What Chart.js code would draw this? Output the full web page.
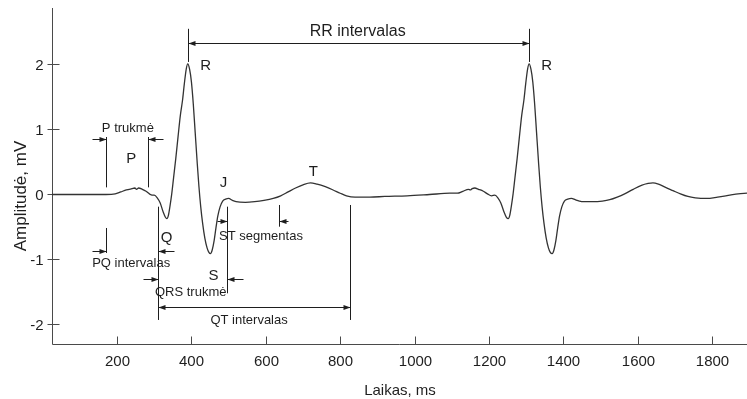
<!DOCTYPE html>
<html>
<head>
<meta charset="utf-8">
<script src="https://cdn.jsdelivr.net/npm/chart.js@4/dist/chart.umd.min.js"></script>
<style>
  html, body { margin: 0; padding: 0; background: #fff; }
  canvas { display: block; }
</style>
</head>
<body>
<canvas id="ecg" width="747" height="399"></canvas>
<script>
// ECG trace: time (ms) and amplitude (mV), two heartbeats
const timeMs = [
  25, 80, 130, 170, 195, 210, 225, 240, 248, 252, 258, 268, 278, 287, 294, 300,
  308, 316, 324, 330, 334, 338, 342, 347, 352, 358, 364, 370, 376, 381, 386, 390,
  395, 400, 405, 410, 415, 420, 425, 430, 436, 442, 447, 451, 456, 461, 466, 471,
  477, 484, 492, 500, 510, 520, 545, 570, 595, 620, 640, 660, 680, 700, 720, 738,
  760, 781, 800, 817, 840, 880, 920, 980, 1040, 1095,
  1115, 1130, 1145, 1150, 1155, 1162, 1172, 1185, 1196, 1207, 1216, 1224, 1232, 1240,
  1247, 1252, 1256, 1260, 1265, 1270, 1276, 1282, 1288, 1294, 1299, 1304, 1308, 1313,
  1318, 1323, 1328, 1333, 1338, 1343, 1348, 1354, 1360, 1365, 1370, 1375, 1380, 1385,
  1390, 1396, 1403, 1412, 1422, 1432, 1443, 1453, 1480, 1505, 1525, 1545, 1565, 1588,
  1610, 1628, 1641, 1656, 1675, 1695, 1715, 1735, 1755, 1785, 1815, 1848, 1870, 1894
];
const amplitudeMv = [
  -0.01, -0.01, -0.01, -0.01, 0.0, 0.03, 0.06, 0.08, 0.09, 0.07, 0.09, 0.07, 0.04, 0.0, -0.02, -0.02,
  -0.06, -0.14, -0.28, -0.36, -0.38, -0.33, -0.20, 0.0, 0.25, 0.55, 0.88, 1.20, 1.44, 1.70, 1.92, 2.0,
  1.92, 1.72, 1.38, 0.95, 0.52, 0.12, -0.20, -0.45, -0.68, -0.83, -0.90, -0.92, -0.86, -0.72, -0.52, -0.34,
  -0.20, -0.11, -0.08, -0.07, -0.10, -0.12, -0.13, -0.12, -0.10, -0.07, -0.03, 0.03, 0.09, 0.14, 0.17, 0.15,
  0.11, 0.06, 0.01, -0.03, -0.05, -0.05, -0.04, -0.03, -0.01, 0.01,
  0.01, 0.04, 0.07, 0.06, 0.08, 0.09, 0.07, 0.04, 0.0, -0.03, -0.02, -0.06, -0.14, -0.27,
  -0.36, -0.38, -0.33, -0.20, 0.0, 0.25, 0.55, 0.88, 1.20, 1.44, 1.70, 1.92, 2.0, 1.92,
  1.72, 1.38, 0.95, 0.52, 0.12, -0.20, -0.45, -0.68, -0.83, -0.90, -0.92, -0.86, -0.72, -0.52,
  -0.34, -0.20, -0.11, -0.08, -0.07, -0.09, -0.11, -0.12, -0.12, -0.11, -0.09, -0.05, 0.0, 0.07,
  0.13, 0.16, 0.17, 0.15, 0.10, 0.05, 0.0, -0.04, -0.06, -0.07, -0.05, -0.02, 0.0, 0.01
];

// Axis ticks
const xTicks = [200, 400, 600, 800, 1000, 1200, 1400, 1600, 1800];
const yTicks = [-2, -1, 0, 1, 2];

const xTitle = 'Laikas, ms';
const yTitle = 'Amplitudė, mV';

// Wave letters and interval captions (data coordinates: x in ms, y = text baseline in mV)
const captions = [
  { text: 'R', x: 438, y: 1.91, size: 15 },
  { text: 'R', x: 1355, y: 1.91, size: 15 },
  { text: 'P', x: 238, y: 0.475, size: 15 },
  { text: 'J', x: 486, y: 0.106, size: 15 },
  { text: 'T', x: 728, y: 0.275, size: 15 },
  { text: 'Q', x: 333, y: -0.74, size: 15 },
  { text: 'S', x: 459, y: -1.325, size: 15 },
  { text: 'RR intervalas', x: 847, y: 2.43, size: 16 },
  { text: 'P trukmė', x: 229, y: 0.95, size: 13 },
  { text: 'PQ intervalas', x: 238, y: -1.118, size: 13 },
  { text: 'QRS trukmė', x: 398, y: -1.579, size: 13 },
  { text: 'ST segmentas', x: 587, y: -0.71, size: 13 },
  { text: 'QT intervalas', x: 555, y: -2.0, size: 13 }
];

// Marker lines: vertical guides [x, yFrom, yTo]
const guides = [
  [390, 2.54, 2.03], [1308, 2.54, 2.03],
  [171, 0.875, 0.10], [284, 0.875, 0.10],
  [171, -0.525, -0.91],
  [311, -0.197, -1.94],
  [495, -0.197, -1.53],
  [635, -0.171, -0.505],
  [826, -0.171, -1.94]
];

// Arrows [xFrom, xTo, y, bothEnds]; head drawn at xTo (and at xFrom if bothEnds)
const arrows = [
  [390, 1308, 2.32, true],
  [132, 171, 0.845, false],
  [323, 284, 0.845, false],
  [132, 171, -0.875, false],
  [353, 311, -0.875, false],
  [270, 311, -1.305, false],
  [539, 495, -1.31, false],
  [468, 495, -0.41, false],
  [660, 635, -0.413, false],
  [311, 826, -1.745, true]
];

const FONT = '"Liberation Sans", Arial, Helvetica, sans-serif';
const INK = '#1e1e1e';
const AXIS = '#4a4a4a';

const ecgDecor = {
  id: 'ecgDecor',
  beforeDatasetsDraw(chart) {
    const { ctx, chartArea: a, scales: { x, y } } = chart;
    ctx.save();
    ctx.strokeStyle = AXIS;
    ctx.lineWidth = 1;
    const L = Math.round(a.left) + 0.5;
    const B = Math.round(a.bottom) + 0.5;
    ctx.beginPath();
    ctx.moveTo(L, a.top);
    ctx.lineTo(L, B);
    ctx.lineTo(a.right, B);
    ctx.stroke();

    ctx.fillStyle = INK;
    ctx.font = '15px ' + FONT;
    // y ticks cross the axis
    ctx.textAlign = 'right';
    ctx.textBaseline = 'middle';
    yTicks.forEach(v => {
      const py = Math.round(y.getPixelForValue(v)) + 0.5;
      ctx.beginPath();
      ctx.moveTo(L - 5, py);
      ctx.lineTo(L + 7, py);
      ctx.stroke();
      ctx.fillText(String(v), L - 9, py + 1);
    });
    // x ticks point into the plot
    ctx.textAlign = 'center';
    ctx.textBaseline = 'alphabetic';
    xTicks.forEach(v => {
      const px = Math.round(x.getPixelForValue(v)) + 0.5;
      ctx.beginPath();
      ctx.moveTo(px, B - 8);
      ctx.lineTo(px, B);
      ctx.stroke();
      ctx.fillText(String(v), px, B + 21);
    });
    // axis titles
    ctx.fillText(xTitle, (a.left + a.right) / 2 + 0.5, 395);
    ctx.save();
    ctx.translate(26, 196);
    ctx.rotate(-Math.PI / 2);
    ctx.font = '17px ' + FONT;
    ctx.fillText(yTitle, 0, 0);
    ctx.restore();
    ctx.restore();
  },
  afterDatasetsDraw(chart) {
    const { ctx, scales: { x, y } } = chart;
    ctx.save();
    ctx.strokeStyle = INK;
    ctx.fillStyle = INK;
    ctx.lineWidth = 1;

    guides.forEach(([gx, y1, y2]) => {
      const px = Math.round(x.getPixelForValue(gx)) + 0.5;
      ctx.beginPath();
      ctx.moveTo(px, y.getPixelForValue(y1));
      ctx.lineTo(px, y.getPixelForValue(y2));
      ctx.stroke();
    });

    const head = (tipX, py, dir) => {
      ctx.beginPath();
      ctx.moveTo(tipX, py);
      ctx.lineTo(tipX - dir * 7, py - 2.5);
      ctx.lineTo(tipX - dir * 7, py + 2.5);
      ctx.closePath();
      ctx.fill();
    };
    arrows.forEach(([x1, x2, ay, both]) => {
      const p1 = Math.round(x.getPixelForValue(x1)) + 0.5;
      const p2 = Math.round(x.getPixelForValue(x2)) + 0.5;
      const py = Math.round(y.getPixelForValue(ay)) + 0.5;
      ctx.beginPath();
      ctx.moveTo(p1, py);
      ctx.lineTo(p2, py);
      ctx.stroke();
      const dir = p2 > p1 ? 1 : -1;
      head(p2, py, dir);
      if (both) head(p1, py, -dir);
    });

    ctx.textAlign = 'center';
    ctx.textBaseline = 'alphabetic';
    captions.forEach(c => {
      ctx.font = c.size + 'px ' + FONT;
      ctx.fillText(c.text, x.getPixelForValue(c.x), y.getPixelForValue(c.y));
    });
    ctx.restore();
  }
};

const points = timeMs.map((t, i) => ({ x: t, y: amplitudeMv[i] }));

new Chart(document.getElementById('ecg'), {
  type: 'line',
  data: {
    datasets: [{
      data: points,
      borderColor: '#333333',
      borderWidth: 1.3,
      pointRadius: 0,
      fill: false,
      cubicInterpolationMode: 'monotone'
    }]
  },
  options: {
    responsive: false,
    animation: false,
    devicePixelRatio: 1,
    layout: { padding: { left: 52, right: 0, top: 8, bottom: 55 } },
    plugins: { legend: { display: false }, tooltip: { enabled: false } },
    scales: {
      x: { type: 'linear', min: 25, max: 1894, display: false },
      y: { type: 'linear', min: -2.31, max: 2.86, display: false }
    }
  },
  plugins: [ecgDecor]
});
</script>
</body>
</html>
